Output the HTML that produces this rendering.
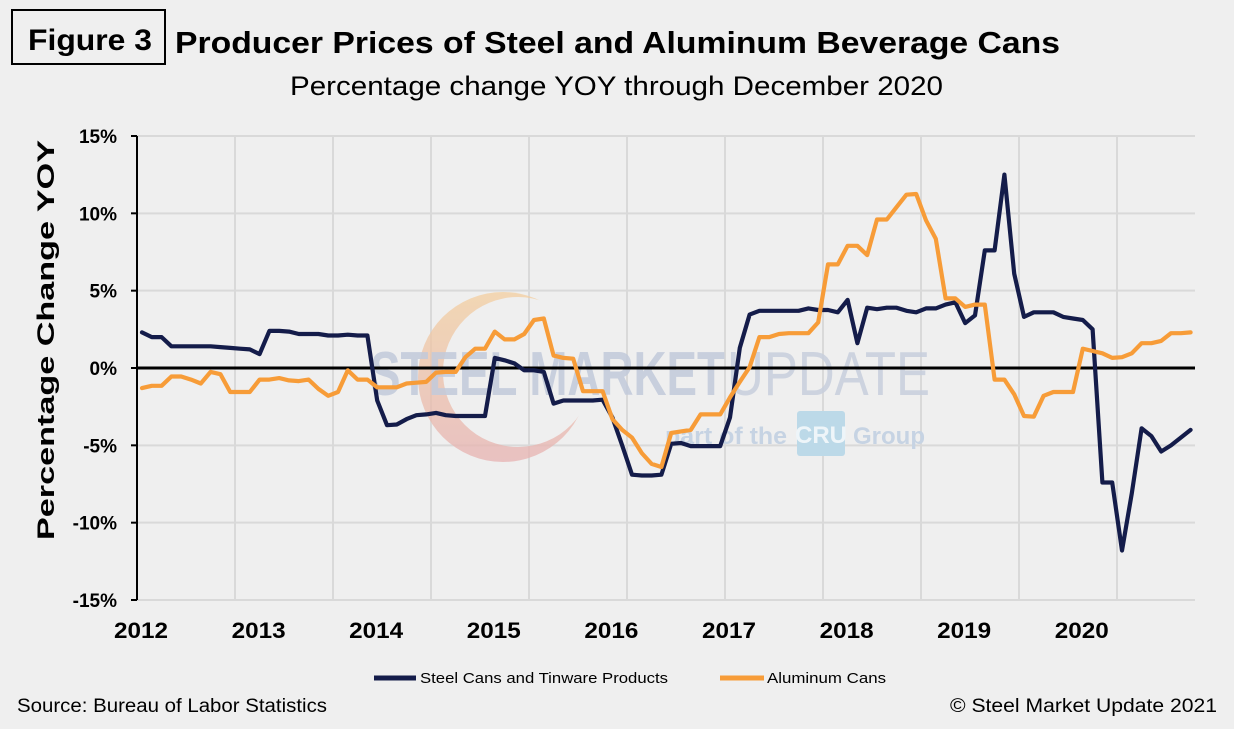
<!DOCTYPE html>
<html><head><meta charset="utf-8"><style>
html,body{margin:0;padding:0;background:#efefef;}
svg{display:block;font-family:"Liberation Sans",sans-serif;}
</style></head><body>
<svg id="c" width="1234" height="729" viewBox="0 0 1234 729" xmlns="http://www.w3.org/2000/svg">
<rect width="1234" height="729" fill="#efefef"/>
<rect x="12" y="10" width="153" height="54" fill="none" stroke="#000" stroke-width="2"/>
<text x="28" y="50" font-size="30" font-weight="bold" textLength="124" lengthAdjust="spacingAndGlyphs">Figure 3</text>
<text x="175" y="53" font-size="31" font-weight="bold" textLength="885" lengthAdjust="spacingAndGlyphs">Producer Prices of Steel and Aluminum Beverage Cans</text>
<text x="290" y="95" font-size="27" textLength="653" lengthAdjust="spacingAndGlyphs">Percentage change YOY through December 2020</text>
<g id="grid" stroke="#d9d9d9" stroke-width="2"></g>
<g id="wm">
<defs><linearGradient id="mg" x1="0" y1="0" x2="0" y2="1"><stop offset="0" stop-color="#f3cfa0"/><stop offset="1" stop-color="#e7b2b2"/></linearGradient>
<mask id="mm"><rect width="1234" height="729" fill="#fff"/><circle cx="518" cy="372" r="75" fill="#000"/></mask></defs>
<circle cx="503" cy="377" r="85" fill="url(#mg)" mask="url(#mm)" opacity="0.75"/>
<text x="370" y="395" font-size="62" font-weight="bold" fill="#c2cadb" opacity="0.85" textLength="355" lengthAdjust="spacingAndGlyphs">STEEL MARKET</text>
<text x="727" y="395" font-size="62" fill="#c8cfdd" opacity="0.85" textLength="203" lengthAdjust="spacingAndGlyphs">UPDATE</text>
<text x="665" y="444" font-size="24" font-weight="bold" fill="#c6d3e3" textLength="122" lengthAdjust="spacingAndGlyphs">part of the</text>
<rect x="797" y="411" width="48" height="45" rx="3" fill="#bcd9e8"/>
<text x="821" y="443" font-size="24" font-weight="bold" fill="#eef5f9" text-anchor="middle">CRU</text>
<text x="853" y="444" font-size="24" font-weight="bold" fill="#c6d3e3" textLength="72" lengthAdjust="spacingAndGlyphs">Group</text>
</g>
<g id="ax"></g>
<g id="series"></g>
<text transform="translate(54,340) rotate(-90)" font-size="24" font-weight="bold" text-anchor="middle" textLength="400" lengthAdjust="spacingAndGlyphs">Percentage Change YOY</text>
<line x1="374" y1="678" x2="416" y2="678" stroke="#141c4a" stroke-width="5"/>
<text x="420" y="683" font-size="15" textLength="248" lengthAdjust="spacingAndGlyphs">Steel Cans and Tinware Products</text>
<line x1="720" y1="678" x2="764" y2="678" stroke="#f79c38" stroke-width="5"/>
<text x="767" y="683" font-size="15" textLength="119" lengthAdjust="spacingAndGlyphs">Aluminum Cans</text>
<text x="17" y="712" font-size="19" textLength="310" lengthAdjust="spacingAndGlyphs">Source: Bureau of Labor Statistics</text>
<text x="950" y="712" font-size="19" textLength="267" lengthAdjust="spacingAndGlyphs">© Steel Market Update 2021</text>
</svg>
<script>
var NS="http://www.w3.org/2000/svg";
function el(t,a,p,txt){var e=document.createElementNS(NS,t);for(var k in a)e.setAttribute(k,a[k]);if(txt!=null)e.textContent=txt;p.appendChild(e);return e;}
var L=137,R=1195,T=136,B=600;
function Y(v){return 368-v*15.47;}
function X(i){return 142+i*9.8;}
var g=document.getElementById('grid');
for(var k=0;k<=6;k++){var y=T+k*(B-T)/6;el('line',{x1:L,y1:y,x2:R,y2:y},g);}
for(var k=1;k<=10;k++){var x=L+k*98;if(x<R)el('line',{x1:x,y1:T,x2:x,y2:B},g);}
var ax=document.getElementById('ax');
el('line',{x1:L,y1:T,x2:L,y2:B,stroke:'#000','stroke-width':2},ax);
var labs=['15%','10%','5%','0%','-5%','-10%','-15%'];
for(var k=0;k<=6;k++){var y=T+k*(B-T)/6;el('line',{x1:L-6,y1:y,x2:L,y2:y,stroke:'#000','stroke-width':2},ax);
el('text',{x:117,y:y+7,'font-size':19,'font-weight':'bold','text-anchor':'end'},ax,labs[k]);}
for(var k=0;k<9;k++){el('text',{x:141+k*117.6,y:638,'font-size':22,'font-weight':'bold','text-anchor':'middle',textLength:54,lengthAdjust:'spacingAndGlyphs'},ax,String(2012+k));}
var steel=[2.3,2.0,2.0,1.4,1.4,1.4,1.4,1.4,1.35,1.3,1.25,1.2,0.9,2.4,2.4,2.35,2.2,2.2,2.2,2.1,2.1,2.15,2.1,2.1,
-2.1,-3.7,-3.65,-3.3,-3.05,-3.0,-2.9,-3.05,-3.1,-3.1,-3.1,-3.1,0.65,0.5,0.3,-0.15,-0.15,-0.25,-2.3,-2.1,-2.1,-2.1,-2.1,-2.05,
-3.2,-5.0,-6.9,-6.95,-6.95,-6.9,-4.9,-4.85,-5.05,-5.05,-5.05,-5.05,-3.2,1.3,3.45,3.7,3.7,3.7,3.7,3.7,3.85,3.75,3.75,3.6,
4.4,1.6,3.9,3.8,3.9,3.9,3.7,3.6,3.85,3.85,4.1,4.25,2.9,3.4,7.6,7.6,12.5,6.1,3.3,3.6,3.6,3.6,3.3,3.2,
3.1,2.5,-7.4,-7.4,-11.8,-8.1,-3.9,-4.4,-5.4,-5.0,-4.5,-4.0];
var alu=[-1.3,-1.15,-1.15,-0.55,-0.55,-0.75,-1.0,-0.25,-0.4,-1.55,-1.55,-1.55,-0.75,-0.75,-0.65,-0.8,-0.85,-0.75,-1.35,-1.8,-1.55,-0.15,-0.75,-0.75,
-1.25,-1.25,-1.25,-1.0,-0.95,-0.9,-0.3,-0.25,-0.25,0.7,1.25,1.25,2.35,1.85,1.85,2.2,3.1,3.2,0.8,0.65,0.6,-1.5,-1.5,-1.5,
-3.3,-4.0,-4.5,-5.5,-6.2,-6.4,-4.2,-4.1,-4.0,-3.0,-3.0,-3.0,-1.9,-0.9,0.05,2.0,2.0,2.2,2.25,2.25,2.25,2.95,6.7,6.7,
7.9,7.9,7.3,9.6,9.6,10.4,11.2,11.25,9.55,8.35,4.5,4.5,3.95,4.1,4.1,-0.75,-0.75,-1.7,-3.1,-3.15,-1.8,-1.55,-1.55,-1.55,
1.25,1.1,0.95,0.65,0.7,0.95,1.6,1.6,1.75,2.25,2.25,2.3];
var s=document.getElementById('series');
el('line',{x1:L,y1:368,x2:R,y2:368,stroke:'#000','stroke-width':3},s);
function pl(d,c){var p=d.map(function(v,i){return X(i).toFixed(1)+','+Y(v).toFixed(1);}).join(' ');
el('polyline',{points:p,fill:'none',stroke:c,'stroke-width':4.2,'stroke-linejoin':'round','stroke-linecap':'round'},s);}
pl(steel,'#141c4a');pl(alu,'#f79c38');
</script>
</body></html>
